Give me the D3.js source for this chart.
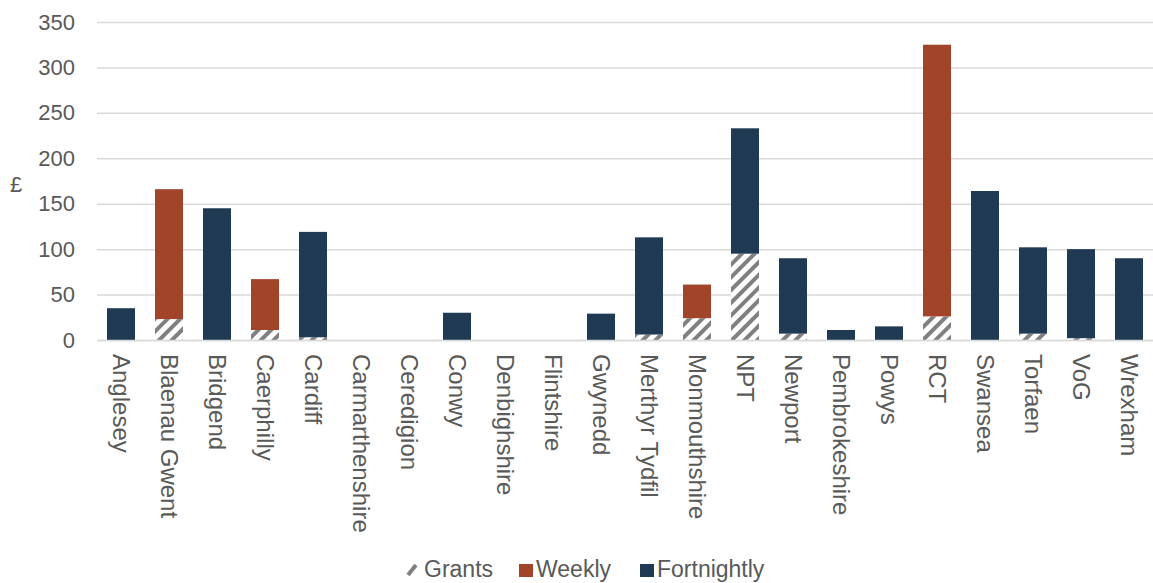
<!DOCTYPE html>
<html><head><meta charset="utf-8">
<script src="https://cdn.jsdelivr.net/npm/d3@7"></script>
<style>body{margin:0;background:#fff;} svg{display:block;font-family:"Liberation Sans",Arial,sans-serif;}</style>
</head><body><svg id="c" width="1153" height="583"></svg>
<script>
const categories = ["Anglesey","Blaenau Gwent","Bridgend","Caerphilly","Cardiff","Carmarthenshire","Ceredigion","Conwy","Denbighshire","Flintshire","Gwynedd","Merthyr Tydfil","Monmouthshire","NPT","Newport","Pembrokeshire","Powys","RCT","Swansea","Torfaen","VoG","Wrexham"];
const grants      = [0,23,0,11,3,0,0,0,0,0,0,6,24,95,7,0,0,26,0,7,2,0];
const weekly      = [0,143,0,56,0,0,0,0,0,0,0,0,37,0,0,0,0,299,0,0,0,0];
const fortnightly = [35,0,145,0,116,0,0,30,0,0,29,107,0,138,83,11,15,0,164,95,98,90];
const yTicks = [0,50,100,150,200,250,300,350];
const seriesNames = ["Grants","Weekly","Fortnightly"];

(function(){
const svg = d3.select("#c");
const pl = 97, pr = 1153, pt = 22, pb = 340;
const x = d3.scaleBand().domain(categories).range([pl, pr]).paddingInner(0.417).paddingOuter(0.2085);
const y = d3.scaleLinear().domain([0,350]).range([pb, pt]);

const defs = svg.append("defs");
const pat = defs.append("pattern").attr("id","hatch").attr("patternUnits","userSpaceOnUse")
  .attr("width",9).attr("height",9).attr("patternTransform","rotate(45)");
pat.append("rect").attr("width",9).attr("height",9).attr("fill","#fff");
pat.append("rect").attr("x",0).attr("width",4).attr("height",9).attr("fill","#808080");

svg.append("g").selectAll("line").data(yTicks).join("line")
  .attr("x1",pl).attr("x2",pr).attr("y1",d=>y(d)+0.5).attr("y2",d=>y(d)+0.5)
  .attr("stroke","#d9d9d9").attr("stroke-width",1.5);

const ya = svg.append("g").attr("transform",`translate(${pl},0)`)
  .call(d3.axisLeft(y).tickValues(yTicks).tickSize(0).tickPadding(22));
ya.select(".domain").remove();
ya.selectAll("text").attr("font-size",22).attr("fill","#595959").attr("font-family","Liberation Sans, Arial, sans-serif");

svg.append("text").attr("x",16).attr("y",184).attr("text-anchor","middle").attr("dominant-baseline","central")
  .attr("font-size",22).attr("fill","#595959").text("£");

const data = categories.map((c,i)=>({cat:c, Grants:grants[i], Weekly:weekly[i], Fortnightly:fortnightly[i]}));
const stack = d3.stack().keys(seriesNames)(data);
const fills = {Grants:"url(#hatch)", Weekly:"#A2442A", Fortnightly:"#1F3A52"};

svg.append("g").selectAll("g").data(stack).join("g").attr("fill",d=>fills[d.key])
  .selectAll("rect").data(d=>d.filter(p=>p[1]-p[0]>0)).join("rect")
  .attr("x",d=>x(d.data.cat)).attr("width",x.bandwidth())
  .attr("y",d=>y(d[1])).attr("height",d=>y(d[0])-y(d[1]));

const xa = svg.append("g").attr("transform",`translate(0,${pb})`)
  .call(d3.axisBottom(x).tickSize(0).tickPadding(0));
xa.select(".domain").attr("stroke","#d9d9d9").attr("stroke-width",1.5);
xa.selectAll("text").attr("font-size",24).attr("fill","#595959").attr("font-family","Liberation Sans, Arial, sans-serif")
  .attr("transform","translate(0,14) rotate(90)").attr("text-anchor","start").attr("dy","0.35em").attr("y",0);

const lg = svg.append("g").attr("font-size",23).attr("fill","#595959");
const legendItems = [{k:"Grants",x:407,tx:424},{k:"Weekly",x:519,tx:536},{k:"Fortnightly",x:640,tx:657}];
legendItems.forEach(it=>{
  if(it.k==="Grants"){
    lg.append("line").attr("x1",it.x+1).attr("y1",575).attr("x2",it.x+9).attr("y2",565).attr("stroke","#808080").attr("stroke-width",4);
  } else {
    lg.append("rect").attr("x",it.x).attr("y",564).attr("width",14).attr("height",13).attr("fill",fills[it.k]);
  }
  lg.append("text").attr("x",it.tx).attr("y",569).attr("dominant-baseline","central").attr("fill","#595959").text(it.k);
});
})();
</script></body></html>
